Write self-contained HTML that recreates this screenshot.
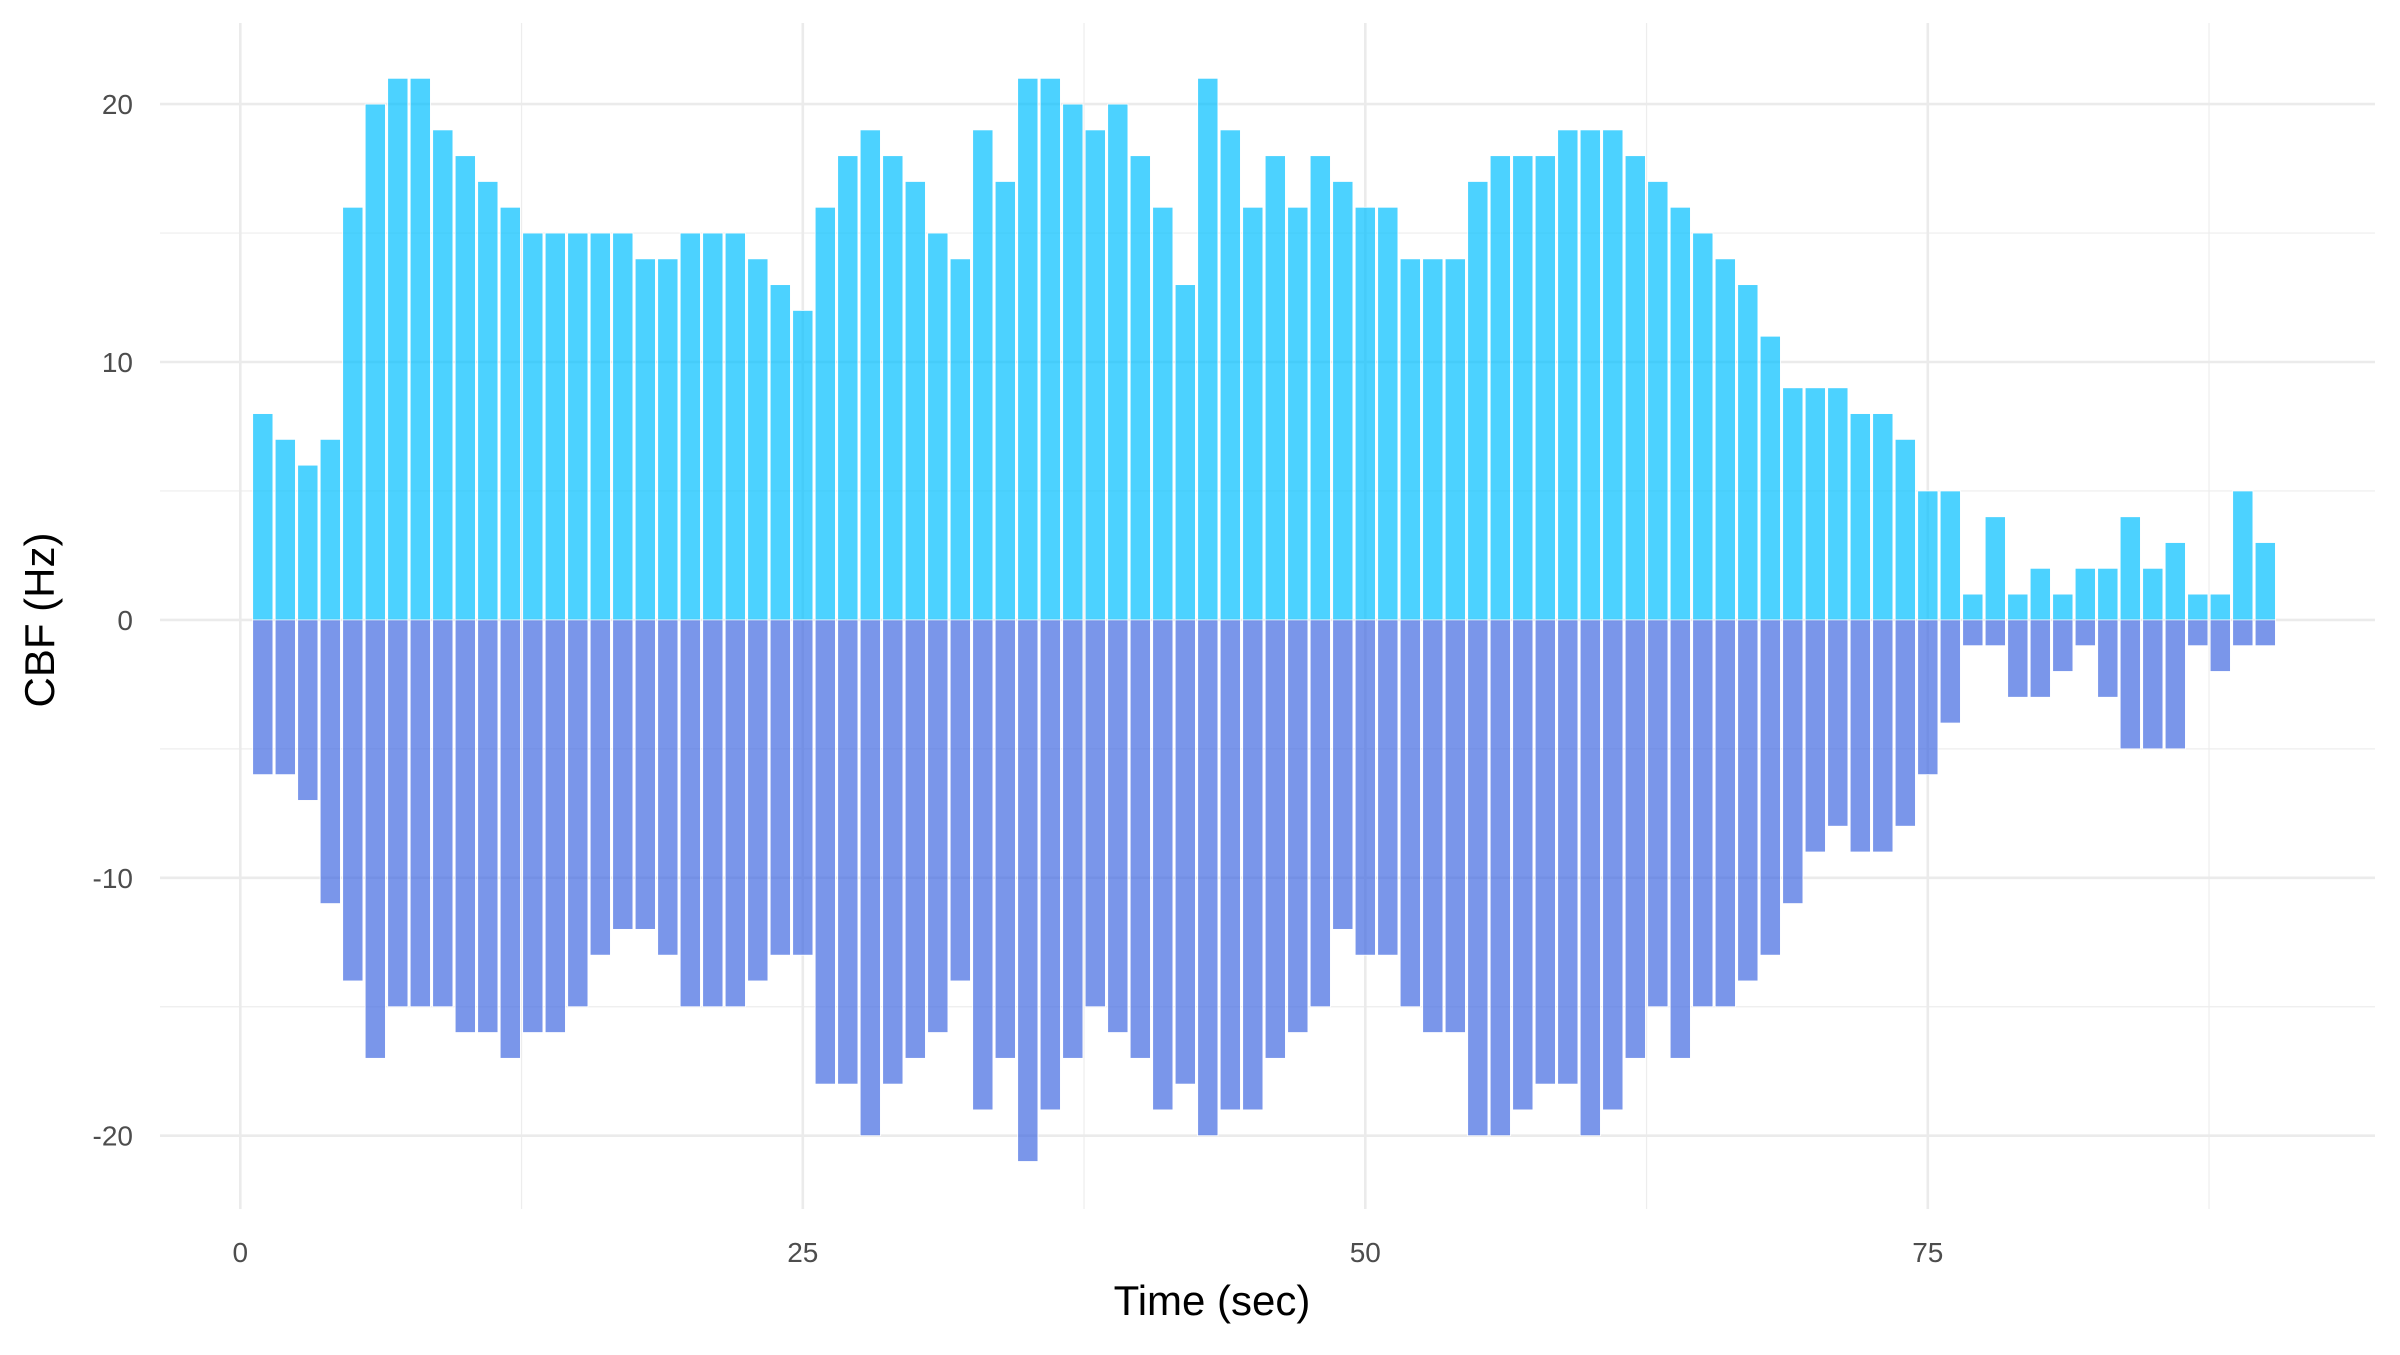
<!DOCTYPE html>
<html><head><meta charset="utf-8"><style>
html,body{margin:0;padding:0;background:#fff;}
svg text{font-family:"Liberation Sans",sans-serif;}
</style></head><body>
<svg id="chart" width="2400" height="1350" xmlns="http://www.w3.org/2000/svg">
<g id="grid"></g>
<g id="bars"></g>
<g id="axes"></g>
<text x="1212" y="1315" font-size="42" text-anchor="middle" fill="#000">Time (sec)</text>
<text x="0" y="0" font-size="42" text-anchor="middle" fill="#000" transform="translate(54,620) rotate(-90)">CBF (Hz)</text>
</svg>
<script>
const posValues=[8,7,6,7,16,20,21,21,19,18,17,16,15,15,15,15,15,14,14,15,15,15,14,13,12,16,18,19,18,17,15,14,19,17,21,21,20,19,20,18,16,13,21,19,16,18,16,18,17,16,16,14,14,14,17,18,18,18,19,19,19,18,17,16,15,14,13,11,9,9,9,8,8,7,5,5,1,4,1,2,1,2,2,4,2,3,1,1,5,3];
const negValues=[-6,-6,-7,-11,-14,-17,-15,-15,-15,-16,-16,-17,-16,-16,-15,-13,-12,-12,-13,-15,-15,-15,-14,-13,-13,-18,-18,-20,-18,-17,-16,-14,-19,-17,-21,-19,-17,-15,-16,-17,-19,-18,-20,-19,-19,-17,-16,-15,-12,-13,-13,-15,-16,-16,-20,-20,-19,-18,-18,-20,-19,-17,-15,-17,-15,-15,-14,-13,-11,-9,-8,-9,-9,-8,-6,-4,-1,-1,-3,-3,-2,-1,-3,-5,-5,-5,-1,-2,-1,-1];
const xTicks=[0,25,50,75];
const yTicks=[-20,-10,0,10,20];
const NS="http://www.w3.org/2000/svg";
const X=v=>240.3+v*22.5;
const Y=v=>619.9-v*25.79;
const L=160,R=2375,T=23,B=1209;
const grid=document.getElementById('grid'),bars=document.getElementById('bars'),axes=document.getElementById('axes');
function mk(tag,attrs,parent){const e=document.createElementNS(NS,tag);for(const k in attrs)e.setAttribute(k,attrs[k]);parent.appendChild(e);return e;}
for(let i=0;i<xTicks.length;i++){const m=xTicks[i]+12.5;const e=mk('line',{x1:X(m),x2:X(m),y1:T,y2:B,stroke:'#ededed','stroke-width':1.2},grid);

}
for(let i=0;i<yTicks.length-1;i++){const m=yTicks[i]+5;const e=mk('line',{x1:L,x2:R,y1:Y(m),y2:Y(m),stroke:'#ededed','stroke-width':1.2},grid);

}
xTicks.forEach(t=>{const e=mk('line',{x1:X(t),x2:X(t),y1:T,y2:B,stroke:'#ebebeb','stroke-width':2.6},grid);


const tx=mk('text',{x:X(t),y:1262,'font-size':28,fill:'#4d4d4d','text-anchor':'middle'},axes);tx.textContent=t;

});
yTicks.forEach(t=>{const e=mk('line',{x1:L,x2:R,y1:Y(t),y2:Y(t),stroke:'#ebebeb','stroke-width':2.6},grid);


const tx=mk('text',{x:133,y:Y(t)+10,'font-size':28,fill:'#4d4d4d','text-anchor':'end'},axes);tx.textContent=t;

});
const w=0.9*22.5;
posValues.forEach((v,i)=>{const x=i+1;const r=mk('rect',{x:X(x)-w/2,y:Y(v),width:w,height:Y(0)-Y(v),fill:'#00bfff','fill-opacity':0.7,stroke:'#fff','stroke-width':0.8},bars);

});
negValues.forEach((v,i)=>{const x=i+1;const r=mk('rect',{x:X(x)-w/2,y:Y(0),width:w,height:Y(v)-Y(0),fill:'#4169e1','fill-opacity':0.7,stroke:'#fff','stroke-width':0.8},bars);

});
</script>
</body></html>
